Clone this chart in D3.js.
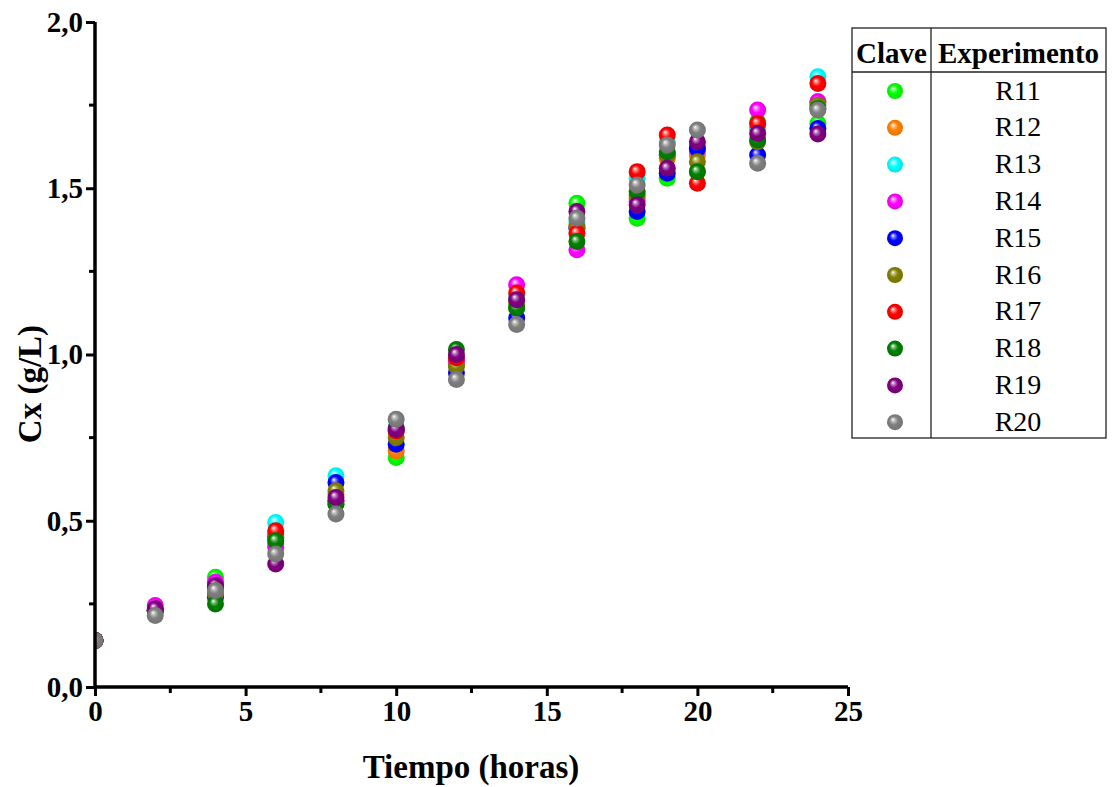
<!DOCTYPE html>
<html>
<head>
<meta charset="utf-8">
<script src="https://cdn.jsdelivr.net/npm/d3@7"></script>
<style>
  html, body { margin: 0; padding: 0; background: #fff; }
  svg { display: block; }
</style>
</head>
<body>
<div id="chart"></div>
<script>
// Sampling times (h)
const times = [0, 2, 4, 6, 8, 10, 12, 14, 16, 18, 19, 20, 22, 24];

// Experiment keys and their marker colours
const series = ["R11", "R12", "R13", "R14", "R15", "R16", "R17", "R18", "R19", "R20"];
const colors = ["#00ff00", "#ff8000", "#00ffff", "#ff00ff", "#0000ff", "#808000", "#ff0000", "#008000", "#800080", "#808080"];

// Biomass concentration Cx (g/L) for each experiment, one value per sampling time
const R11 = [0.14, 0.23, 0.33, 0.43, 0.55, 0.69, 0.99, 1.15, 1.455, 1.41, 1.53, 1.55, 1.70, 1.695];
const R12 = [0.14, 0.23, 0.30, 0.46, 0.58, 0.71, 0.97, 1.16, 1.39, 1.47, 1.59, 1.60, 1.68, 1.76];
const R13 = [0.14, 0.23, 0.31, 0.495, 0.635, 0.78, 0.99, 1.17, 1.40, 1.53, 1.64, 1.63, 1.68, 1.835];
const R14 = [0.14, 0.245, 0.315, 0.42, 0.56, 0.77, 0.98, 1.21, 1.315, 1.46, 1.60, 1.615, 1.735, 1.76];
const R15 = [0.14, 0.23, 0.27, 0.45, 0.615, 0.73, 0.945, 1.11, 1.38, 1.43, 1.545, 1.62, 1.60, 1.68];
const R16 = [0.14, 0.23, 0.28, 0.45, 0.59, 0.75, 0.965, 1.14, 1.385, 1.48, 1.60, 1.58, 1.64, 1.75];
const R17 = [0.14, 0.23, 0.30, 0.47, 0.56, 0.77, 0.99, 1.185, 1.365, 1.55, 1.66, 1.515, 1.695, 1.815];
const R18 = [0.14, 0.23, 0.25, 0.44, 0.55, 0.78, 1.015, 1.14, 1.34, 1.49, 1.61, 1.55, 1.645, 1.74];
const R19 = [0.14, 0.235, 0.305, 0.37, 0.57, 0.775, 1.0, 1.165, 1.43, 1.45, 1.56, 1.64, 1.665, 1.663];
const R20 = [0.14, 0.215, 0.29, 0.40, 0.52, 0.805, 0.925, 1.09, 1.41, 1.51, 1.63, 1.675, 1.575, 1.735];
const values = [R11, R12, R13, R14, R15, R16, R17, R18, R19, R20];

// Axis ticks
const xTicks = [0, 5, 10, 15, 20, 25];
const xMinor = [2.5, 7.5, 12.5, 17.5, 22.5];
const yTicks = [0, 0.5, 1.0, 1.5, 2.0];
const yMinor = [0.25, 0.75, 1.25, 1.75];

const W = 1112, H = 787;
const plot = { left: 95, right: 848, top: 22, bottom: 687 };

const svg = d3.select("#chart").append("svg")
  .attr("width", W).attr("height", H);

const x = d3.scaleLinear().domain([0, 25]).range([plot.left, plot.right]);
const y = d3.scaleLinear().domain([0, 2.0]).range([plot.bottom, plot.top]);

const fmt = d => d3.format(".1f")(d).replace(".", ",");

// Glossy sphere gradients
const defs = svg.append("defs");
colors.forEach((c, i) => {
  const g = defs.append("radialGradient")
    .attr("id", "sph" + i)
    .attr("cx", "50%").attr("cy", "50%").attr("r", "55%")
    .attr("fx", "36%").attr("fy", "32%");
  const base = d3.color(c);
  g.append("stop").attr("offset", "0%").attr("stop-color", "#ffffff");
  g.append("stop").attr("offset", "22%").attr("stop-color", d3.interpolateRgb(c, "#ffffff")(0.45));
  g.append("stop").attr("offset", "48%").attr("stop-color", c);
  g.append("stop").attr("offset", "100%").attr("stop-color", base.darker(0.35).toString());
});

defs.append("clipPath").attr("id", "plotClip")
  .append("rect")
  .attr("x", plot.left).attr("y", plot.top - 20)
  .attr("width", plot.right - plot.left + 30)
  .attr("height", plot.bottom - plot.top + 40);

// Points
const pts = svg.append("g").attr("clip-path", "url(#plotClip)");
series.forEach((name, i) => {
  pts.append("g").attr("class", "series " + name)
    .selectAll("circle")
    .data(times.map((t, k) => ({ t, v: values[i][k] })))
    .join("circle")
    .attr("cx", d => x(d.t))
    .attr("cy", d => y(d.v))
    .attr("r", 8.5)
    .attr("fill", "url(#sph" + i + ")");
});

// Axes
const fontSerif = "'Liberation Serif', 'Times New Roman', serif";

const xAxis = svg.append("g").attr("transform", `translate(0,${plot.bottom})`);
xAxis.call(d3.axisBottom(x).tickValues(xTicks).tickSize(9).tickPadding(4).tickFormat(d3.format("d")));
xAxis.append("g").selectAll("line").data(xMinor).join("line")
  .attr("x1", d => x(d)).attr("x2", d => x(d)).attr("y1", 0).attr("y2", 6)
  .attr("stroke", "#000").attr("stroke-width", 3);

const yAxis = svg.append("g").attr("transform", `translate(${plot.left},0)`);
yAxis.call(d3.axisLeft(y).tickValues(yTicks).tickSize(9).tickPadding(3).tickFormat(fmt));
yAxis.append("g").selectAll("line").data(yMinor).join("line")
  .attr("y1", d => y(d)).attr("y2", d => y(d)).attr("x1", 0).attr("x2", -6)
  .attr("stroke", "#000").attr("stroke-width", 3);

[xAxis, yAxis].forEach(a => {
  a.select(".domain").attr("stroke", "#000").attr("stroke-width", 3.5);
  a.selectAll(".tick line").attr("stroke", "#000").attr("stroke-width", 3);
  a.selectAll(".tick text")
    .attr("font-family", fontSerif).attr("font-weight", "bold")
    .attr("font-size", 29).attr("fill", "#000");
});
xAxis.select(".domain").attr("d", `M${plot.left},0H${plot.right}`);
yAxis.select(".domain").attr("d", `M0,${plot.bottom}V${plot.top}`);

// Axis titles
svg.append("text")
  .attr("x", 471).attr("y", 778)
  .attr("text-anchor", "middle")
  .attr("font-family", fontSerif).attr("font-weight", "bold").attr("font-size", 33)
  .text("Tiempo (horas)");

svg.append("text")
  .attr("transform", `translate(41,384) rotate(-90)`)
  .attr("text-anchor", "middle")
  .attr("font-family", fontSerif).attr("font-weight", "bold").attr("font-size", 33)
  .text("Cx (g/L)");

// Legend table
const lg = { left: 852, right: 1106, top: 28, bottom: 438, headBottom: 72, divider: 931, row0: 91, step: 36.8 };
const leg = svg.append("g");
leg.append("rect")
  .attr("x", lg.left).attr("y", lg.top)
  .attr("width", lg.right - lg.left).attr("height", lg.bottom - lg.top)
  .attr("fill", "none").attr("stroke", "#222").attr("stroke-width", 1.3);
leg.append("line")
  .attr("x1", lg.left).attr("x2", lg.right).attr("y1", lg.headBottom).attr("y2", lg.headBottom)
  .attr("stroke", "#222").attr("stroke-width", 1.3);
leg.append("line")
  .attr("x1", lg.divider).attr("x2", lg.divider).attr("y1", lg.top).attr("y2", lg.bottom)
  .attr("stroke", "#222").attr("stroke-width", 1.3);

leg.append("text")
  .attr("x", (lg.left + lg.divider) / 2).attr("y", 63)
  .attr("text-anchor", "middle")
  .attr("font-family", fontSerif).attr("font-weight", "bold").attr("font-size", 29)
  .text("Clave");
leg.append("text")
  .attr("x", (lg.divider + lg.right) / 2).attr("y", 63)
  .attr("text-anchor", "middle")
  .attr("font-family", fontSerif).attr("font-weight", "bold").attr("font-size", 29)
  .text("Experimento");

const rows = leg.selectAll("g.row").data(series).join("g").attr("class", "row")
  .attr("transform", (d, i) => `translate(0,${lg.row0 + i * lg.step})`);
rows.append("circle")
  .attr("cx", 895).attr("cy", 0).attr("r", 8)
  .attr("fill", (d, i) => "url(#sph" + i + ")");
rows.append("text")
  .attr("x", 1018).attr("y", 8.5)
  .attr("text-anchor", "middle")
  .attr("font-family", fontSerif).attr("font-size", 28)
  .text(d => d);
</script>
</body>
</html>
